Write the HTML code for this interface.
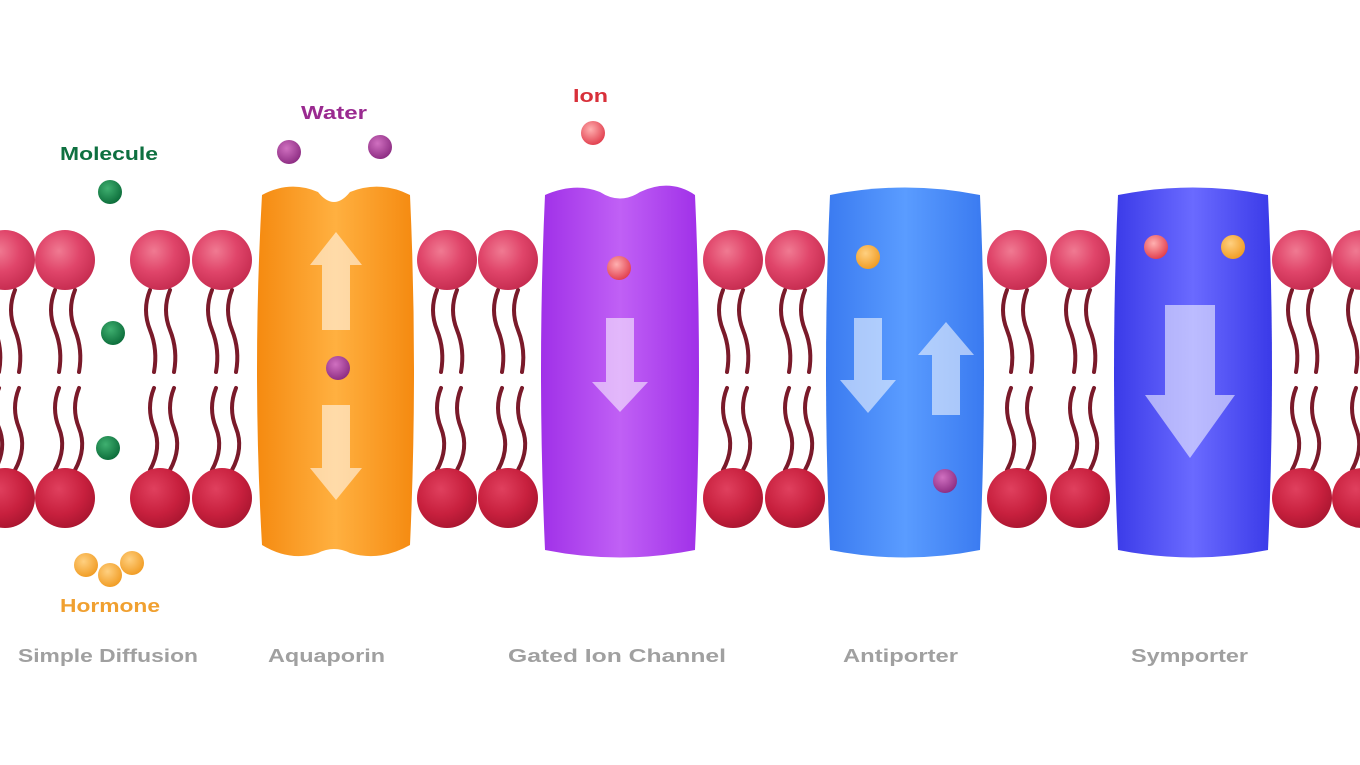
<!DOCTYPE html>
<html><head><meta charset="utf-8"><style>
body{margin:0;background:#fff;width:1360px;height:765px;overflow:hidden}
svg{display:block}
text{font-family:"Liberation Sans",sans-serif;font-weight:bold}
</style></head><body>
<svg id="s" width="1360" height="765" viewBox="0 0 1360 765">
<defs>
<radialGradient id="ht" cx="0.4" cy="0.35" r="0.7"><stop offset="0" stop-color="#f07a92"/><stop offset="0.5" stop-color="#e0456a"/><stop offset="1" stop-color="#c42a4e"/></radialGradient>
<radialGradient id="hb" cx="0.4" cy="0.35" r="0.7"><stop offset="0" stop-color="#e0405e"/><stop offset="0.6" stop-color="#c8203e"/><stop offset="1" stop-color="#a8152f"/></radialGradient>
<radialGradient id="gr" cx="0.4" cy="0.35" r="0.7"><stop offset="0" stop-color="#3fb070"/><stop offset="1" stop-color="#0a6a38"/></radialGradient>
<radialGradient id="pu" cx="0.4" cy="0.35" r="0.7"><stop offset="0" stop-color="#d070c0"/><stop offset="1" stop-color="#8a2a80"/></radialGradient>
<radialGradient id="rd" cx="0.4" cy="0.35" r="0.7"><stop offset="0" stop-color="#ffb0b0"/><stop offset="1" stop-color="#e03a4a"/></radialGradient>
<radialGradient id="or" cx="0.4" cy="0.35" r="0.7"><stop offset="0" stop-color="#ffd080"/><stop offset="1" stop-color="#f09a20"/></radialGradient>
<linearGradient id="go" x1="0" x2="1"><stop offset="0" stop-color="#f58a10"/><stop offset="0.5" stop-color="#ffb040"/><stop offset="1" stop-color="#f58a10"/></linearGradient>
<linearGradient id="gp" x1="0" x2="1"><stop offset="0" stop-color="#a030e8"/><stop offset="0.5" stop-color="#c060f5"/><stop offset="1" stop-color="#a030e8"/></linearGradient>
<linearGradient id="gb" x1="0" x2="1"><stop offset="0" stop-color="#3a7af0"/><stop offset="0.5" stop-color="#5a9cff"/><stop offset="1" stop-color="#3a7af0"/></linearGradient>
<linearGradient id="gi" x1="0" x2="1"><stop offset="0" stop-color="#3a3ae8"/><stop offset="0.5" stop-color="#6a6aff"/><stop offset="1" stop-color="#3a3ae8"/></linearGradient>
</defs>
<g id="lip"></g>
<path d="M262 195 Q290 180 318 192 Q334 212 350 192 Q380 180 410 195 Q418 370 410 545 Q380 562 350 553 Q334 545 318 553 Q290 562 262 545 Q252 370 262 195Z" fill="url(#go)"/>
<path d="M545 195 Q575 182 600 192 Q620 205 640 192 Q670 178 695 195 Q703 370 695 550 Q620 565 545 550 Q537 370 545 195Z" fill="url(#gp)"/>
<path d="M830 195 Q905 180 980 195 Q988 370 980 550 Q905 565 830 550 Q822 370 830 195Z" fill="url(#gb)"/>
<path d="M1118 195 Q1193 180 1268 195 Q1276 370 1268 550 Q1193 565 1118 550 Q1110 370 1118 195Z" fill="url(#gi)"/>
<g fill="#fff" opacity="0.55">
<path d="M336 232 L362 265 L350 265 L350 330 L322 330 L322 265 L310 265Z"/>
<path d="M336 500 L362 468 L350 468 L350 405 L322 405 L322 468 L310 468Z"/>
<path d="M620 412 L648 382 L634 382 L634 318 L606 318 L606 382 L592 382Z"/>
<path d="M868 413 L896 380 L882 380 L882 318 L854 318 L854 380 L840 380Z"/>
<path d="M946 322 L974 355 L960 355 L960 415 L932 415 L932 355 L918 355Z"/>
<path d="M1190 458 L1235 395 L1215 395 L1215 305 L1165 305 L1165 395 L1145 395Z"/>
</g>
<circle cx="110" cy="192" r="12" fill="url(#gr)"/>
<circle cx="113" cy="333" r="12" fill="url(#gr)"/>
<circle cx="108" cy="448" r="12" fill="url(#gr)"/>
<circle cx="289" cy="152" r="12" fill="url(#pu)"/>
<circle cx="380" cy="147" r="12" fill="url(#pu)"/>
<circle cx="338" cy="368" r="12" fill="url(#pu)"/>
<circle cx="945" cy="481" r="12" fill="url(#pu)"/>
<circle cx="593" cy="133" r="12" fill="url(#rd)"/>
<circle cx="619" cy="268" r="12" fill="url(#rd)"/>
<circle cx="1156" cy="247" r="12" fill="url(#rd)"/>
<circle cx="868" cy="257" r="12" fill="url(#or)"/>
<circle cx="1233" cy="247" r="12" fill="url(#or)"/>
<circle cx="86" cy="565" r="12" fill="url(#or)"/>
<circle cx="110" cy="575" r="12" fill="url(#or)"/>
<circle cx="132" cy="563" r="12" fill="url(#or)"/>
<text x="60" y="160" font-size="18" fill="#0e7040" textLength="98" lengthAdjust="spacingAndGlyphs">Molecule</text>
<text x="301" y="119" font-size="18" fill="#9a2a90" textLength="66" lengthAdjust="spacingAndGlyphs">Water</text>
<text x="573" y="102" font-size="18" fill="#d8303a" textLength="35" lengthAdjust="spacingAndGlyphs">Ion</text>
<text x="60" y="612" font-size="18" fill="#f0a030" textLength="100" lengthAdjust="spacingAndGlyphs">Hormone</text>
<g font-size="18" fill="#a0a0a0">
<text x="18" y="662" textLength="180" lengthAdjust="spacingAndGlyphs">Simple Diffusion</text>
<text x="268" y="662" textLength="117" lengthAdjust="spacingAndGlyphs">Aquaporin</text>
<text x="508" y="662" textLength="218" lengthAdjust="spacingAndGlyphs">Gated  Ion  Channel</text>
<text x="843" y="662" textLength="115" lengthAdjust="spacingAndGlyphs">Antiporter</text>
<text x="1131" y="662" textLength="117" lengthAdjust="spacingAndGlyphs">Symporter</text>
</g>
</svg>
<script>
var g=document.getElementById('lip'),xs=[5,65,160,222,447,508,733,795,1017,1080,1302,1362],h='';
xs.forEach(function(x){
 [x-10,x+10].forEach(function(t,i){
  h+='<path d="M'+t+' 290 q-8 20 0 40 q8 20 4 42" stroke="#7a1a2a" stroke-width="4" fill="none" stroke-linecap="round"/>';
  h+='<path d="M'+(t+4)+' 388 q-8 20 0 40 q8 20 -4 42" stroke="#7a1a2a" stroke-width="4" fill="none" stroke-linecap="round"/>';
 });
 h+='<circle cx="'+x+'" cy="260" r="30" fill="url(#ht)"/>';
 h+='<circle cx="'+x+'" cy="498" r="30" fill="url(#hb)"/>';
});
g.innerHTML=h;
</script>
</body></html>
